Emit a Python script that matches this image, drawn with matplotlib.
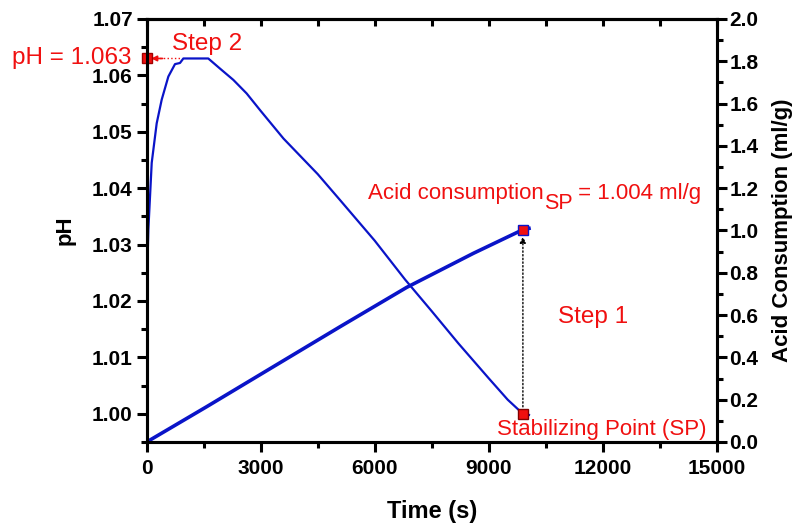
import matplotlib.pyplot as plt
from matplotlib.ticker import MultipleLocator

plt.rcParams['font.family'] = ['Liberation Sans', 'DejaVu Sans']

# pH trace (time in s)
ph_time = [0, 44, 132, 263, 395, 570, 745, 876, 965, 1620, 1930, 2280, 2630,
           3000, 3600, 4500, 5100, 6000, 6800, 7500, 8200, 9000, 9500, 9900,
           10060]
ph_value = [1.0215, 1.0327, 1.0445, 1.0515, 1.0557, 1.0598, 1.0620, 1.0622,
            1.0630, 1.0630, 1.0612, 1.0592, 1.0568, 1.0537, 1.0488, 1.0425,
            1.0378, 1.0307, 1.0238, 1.0182, 1.0125, 1.0063, 1.0025, 1.0000,
            0.9998]

# cumulative acid consumption (ml/g)
acid_time = [0, 1579, 3333, 5088, 6842, 8596, 9900, 10060]
acid_value = [0.0, 0.167, 0.356, 0.545, 0.731, 0.892, 1.004, 1.010]

sp_time = 9900
sp_ph = 1.000
sp_acid = 1.004
peak_ph = 1.063

blue = '#0a14c8'
red = '#f01010'

fig = plt.figure(figsize=(7.99, 5.26), dpi=100)
ax1 = fig.add_axes([0.1836, 0.1597, 0.7134, 0.8042])
ax2 = ax1.twinx()

ax1.plot(ph_time, ph_value, color=blue, lw=1.6)
ax2.plot(acid_time, acid_value, color=blue, lw=2.6)

ax1.set_xlim(0, 15000)
ax1.set_ylim(0.995, 1.07)
ax2.set_ylim(0, 2.0)

ax1.xaxis.set_major_locator(MultipleLocator(3000))
ax1.xaxis.set_minor_locator(MultipleLocator(1500))
ax1.yaxis.set_minor_locator(MultipleLocator(0.005))
ax2.yaxis.set_minor_locator(MultipleLocator(0.1))
ax1.set_yticks([1.00, 1.01, 1.02, 1.03, 1.04, 1.05, 1.06, 1.07])
ax1.set_yticklabels(['1.00', '1.01', '1.02', '1.03', '1.04', '1.05', '1.06', '1.07'])
ax2.set_yticks([0.0, 0.2, 0.4, 0.6, 0.8, 1.0, 1.2, 1.4, 1.6, 1.8, 2.0])
ax2.set_yticklabels(['0.0', '0.2', '0.4', '0.6', '0.8', '1.0', '1.2', '1.4',
                     '1.6', '1.8', '2.0'])

for ax in (ax1, ax2):
    for sp in ax.spines.values():
        sp.set_linewidth(2.2)
ax1.tick_params(axis='both', which='major', direction='out', length=7, width=2.2,
                labelsize=15)
ax1.tick_params(axis='both', which='minor', direction='out', length=4.5, width=2.2)
ax1.tick_params(axis='x', which='major', pad=5)
ax1.tick_params(axis='y', which='major', pad=3)
ax2.tick_params(axis='y', which='major', direction='out', length=7, width=2.2,
                labelsize=15, pad=2)
ax2.tick_params(axis='y', which='minor', direction='out', length=4.5, width=2.2)
for lab in ax1.get_xticklabels() + ax1.get_yticklabels() + ax2.get_yticklabels():
    lab.set_fontweight('bold')

# inward ticks along the top frame
top = ax1.secondary_xaxis('top')
top.xaxis.set_major_locator(MultipleLocator(3000))
top.xaxis.set_minor_locator(MultipleLocator(1500))
top.tick_params(which='both', direction='in', length=5, width=2.2, labeltop=False)
top.spines['top'].set_linewidth(2.2)

ax1.set_xlabel('Time (s)', fontsize=17, fontweight='bold', labelpad=16)
ax1.set_ylabel('pH', fontsize=16, fontweight='bold', labelpad=12)
ax2.set_ylabel('Acid Consumption (ml/g)', fontsize=16, fontweight='bold',
               labelpad=10)

# Step 2: peak pH carried back to the pH axis
ax1.plot([250, 900], [peak_ph, peak_ph], color=red, lw=1, ls=':')
ax1.annotate('', xy=(120, peak_ph), xytext=(420, peak_ph),
             arrowprops=dict(arrowstyle='-|>', color=red, lw=1.2,
                             mutation_scale=8, shrinkA=0, shrinkB=0))
ax1.plot([0], [peak_ph], marker='s', ms=7, mfc=red, mec='#a00000', clip_on=False,
         zorder=5)
ax1.text(-410, peak_ph, 'pH = 1.063', color=red, fontsize=17.5, ha='right',
         va='center', clip_on=False)
ax1.text(670, 1.0655, 'Step 2', color=red, fontsize=17.5, va='center')

# Step 1: from stabilizing point up to acid consumption at SP
ax1.annotate('', xy=(sp_time, sp_acid), xycoords=ax2.transData,
             xytext=(sp_time, sp_ph), textcoords=ax1.transData,
             arrowprops=dict(arrowstyle='-|>', color='black', lw=1, ls=':',
                             mutation_scale=9, shrinkA=5, shrinkB=5))
ax1.plot([sp_time], [sp_ph], marker='s', ms=7, mfc=red, mec='#800000', zorder=5)
ax2.plot([sp_time], [sp_acid], marker='s', ms=7, mfc=red, mec=blue, zorder=5)

# label with a near full-size "SP" subscript
t_acid = ax1.text(5820, 1.038, 'Acid consumption', color=red, fontsize=16,
                  va='baseline')
t_sp = ax1.annotate('SP', xy=(1, 0), xycoords=t_acid, xytext=(0, -7),
                    textcoords='offset points', color=red, fontsize=15.5,
                    va='bottom')
ax1.annotate(' = 1.004 ml/g', xy=(1, 0), xycoords=t_sp, xytext=(0, 7),
             textcoords='offset points', color=red, fontsize=16, va='bottom')
ax1.text(10826, 1.0171, 'Step 1', color=red, fontsize=17.5, va='center')
ax1.text(9220, 0.9973, 'Stabilizing Point (SP)', color=red, fontsize=16,
         va='center')

fig.savefig('out.png', dpi=100)
